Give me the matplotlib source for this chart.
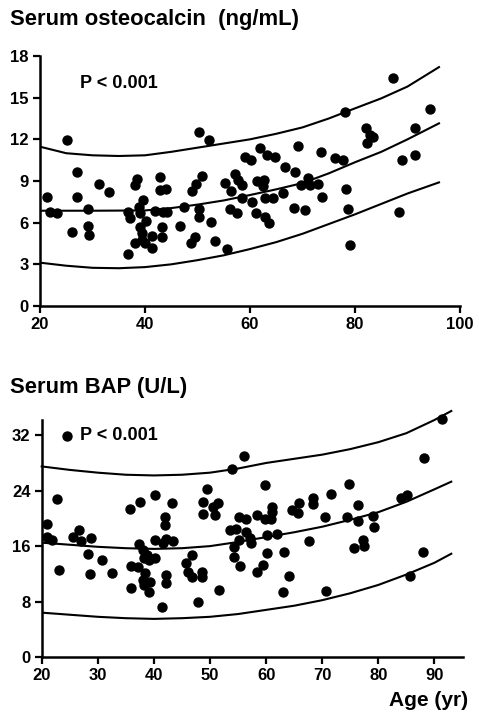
import matplotlib
matplotlib.use("Agg")
import matplotlib.pyplot as plt
import numpy as np

plt.rcParams['font.family'] = ['Liberation Sans', 'DejaVu Sans']
plt.rcParams['font.weight'] = 'bold'

# ---- Serum osteocalcin (ng/mL) vs age ----
oc_age = [21.3, 21.9, 23.3, 25.1, 26.0, 27.0, 27.0, 29.2, 29.2, 29.4, 31.3, 33.1,
          36.7, 36.7, 37.1, 38.0, 38.4, 38.0, 38.9, 39.0, 39.0, 39.4, 39.7, 39.4,
          40.2, 40.0, 41.3, 41.3, 41.9, 42.9, 42.9, 44.0, 43.5, 43.2, 43.3, 44.1,
          46.7, 47.4, 48.7, 49.5, 48.9, 49.7, 50.2, 52.1, 50.3, 50.3, 50.9, 52.5,
          53.3, 55.7, 55.2, 56.1, 56.3, 57.1, 57.6, 57.8, 58.4, 58.5, 59.0, 60.1,
          60.4, 61.3, 61.1, 61.9, 62.4, 62.7, 62.9, 62.9, 63.7, 63.2, 64.3, 64.8,
          66.2, 66.7, 68.3, 68.6, 69.1, 69.7, 70.5, 71.0, 71.4, 72.9, 73.5, 73.8,
          76.2, 77.8, 78.1, 78.3, 78.7, 79.0, 82.0, 82.2, 82.9, 83.4, 87.3, 88.3,
          88.9, 91.4, 91.4, 94.3]
oc_val = [7.87, 6.79, 6.67, 11.95, 5.35, 9.67, 7.82, 6.96, 5.78, 5.11, 8.76, 8.18,
          3.74, 6.74, 6.31, 8.71, 9.14, 4.56, 7.15, 6.67, 5.71, 5.23, 7.63, 4.75,
          6.14, 4.51, 4.15, 5.04, 6.86, 9.31, 8.35, 8.40, 6.79, 5.71, 4.99, 6.79,
          5.76, 7.15, 4.51, 4.99, 8.30, 8.76, 12.55, 11.95, 6.96, 6.43, 9.38, 6.07,
          4.70, 4.08, 8.88, 6.96, 8.28, 9.48, 6.72, 9.07, 8.71, 7.80, 10.75, 10.51,
          7.46, 9.02, 6.72, 11.35, 8.66, 9.07, 7.75, 6.43, 6.00, 10.87, 7.75, 10.75,
          8.11, 10.03, 7.03, 9.62, 11.54, 8.71, 6.91, 9.19, 8.71, 8.78, 11.11, 7.87,
          10.63, 10.51, 13.99, 8.40, 6.98, 4.39, 12.79, 11.76, 12.31, 12.19, 16.39, 6.74,
          10.51, 12.79, 10.87, 14.16]

oc_curve_age = [20, 25, 30, 35, 40, 45, 50, 55, 60, 65, 70, 75, 80, 85, 90, 96]
oc_upper = [11.47, 11.0, 10.85, 10.8, 10.85, 11.1, 11.4, 11.7, 12.0, 12.4, 12.86, 13.5, 14.23, 14.95, 15.8, 17.2]
oc_mid = [6.86, 6.86, 6.86, 6.87, 6.88, 7.05, 7.3, 7.6, 7.99, 8.4, 8.85, 9.55, 10.35, 11.1, 12.0, 13.15]
oc_lower = [3.12, 2.9, 2.75, 2.72, 2.8, 3.0, 3.3, 3.65, 4.1, 4.6, 5.2, 5.9, 6.6, 7.35, 8.1, 8.9]

# ---- Serum BAP (U/L) vs age ----
bap_age = [20.9, 20.9, 21.8, 22.8, 23.1, 24.5, 25.6, 26.7, 27.0, 28.3, 28.6, 28.8,
           30.7, 32.6, 35.7, 36.0, 36.0, 37.1, 37.4, 37.5, 38.1, 38.2, 38.4, 38.1,
           38.2, 38.7, 39.2, 39.3, 39.2, 40.2, 40.2, 40.2, 41.4, 41.7, 42.0, 42.0,
           42.1, 42.1, 42.1, 43.2, 43.4, 45.8, 46.1, 46.7, 46.7, 47.9, 48.5, 48.5,
           48.7, 48.7, 49.4, 50.6, 50.9, 51.5, 51.6, 53.6, 53.9, 54.2, 54.3, 54.6,
           55.1, 55.1, 55.4, 56.1, 56.4, 56.5, 57.1, 57.3, 58.3, 58.4, 59.5, 59.8,
           59.8, 60.1, 60.2, 60.8, 61.0, 61.0, 61.9, 63.0, 63.1, 64.1, 64.6, 65.6,
           65.9, 67.7, 68.3, 68.4, 70.5, 70.6, 71.6, 74.4, 74.8, 75.6, 76.3, 76.4,
           77.2, 77.5, 79.1, 79.2, 84.1, 85.1, 85.7, 87.9, 88.2, 91.3]
bap_val = [19.26, 17.34, 16.95, 22.86, 12.54, 31.89, 17.34, 18.30, 16.76, 14.84, 11.96, 17.20,
           13.98, 12.06, 21.42, 13.16, 9.89, 13.02, 16.28, 22.38, 15.42, 14.22, 12.06, 11.10,
           10.37, 14.70, 13.98, 10.85, 9.32, 23.34, 16.86, 14.22, 7.16, 16.52, 20.22, 19.02,
           17.10, 11.82, 10.61, 22.24, 16.71, 13.59, 12.30, 14.70, 11.48, 7.97, 12.30, 11.48,
           22.38, 20.60, 24.30, 21.66, 20.46, 22.24, 9.65, 18.30, 27.09, 15.90, 14.46, 18.40,
           16.86, 20.22, 13.11, 28.96, 19.98, 18.06, 17.24, 16.38, 20.56, 12.30, 13.26, 24.78,
           19.98, 15.03, 17.58, 19.98, 21.66, 20.94, 17.68, 9.41, 15.18, 11.72, 21.18, 20.80,
           22.29, 16.76, 23.01, 22.14, 20.22, 9.51, 23.49, 20.22, 24.93, 15.75, 21.90, 19.60,
           16.95, 16.04, 20.37, 18.78, 23.01, 23.34, 11.72, 15.18, 28.77, 34.39]

bap_curve_age = [20, 25, 30, 35, 40, 45, 50, 55, 60, 65, 70, 75, 80, 85, 90, 93]
bap_upper = [27.5, 27.0, 26.6, 26.3, 26.2, 26.3, 26.6, 27.2, 28.0, 28.6, 29.2, 30.0, 31.0, 32.3, 34.2, 35.5]
bap_mid = [16.5, 16.2, 15.9, 15.7, 15.6, 15.7, 16.0, 16.6, 17.3, 18.0, 18.8, 19.8, 20.9, 22.4, 24.2, 25.3]
bap_lower = [6.4, 6.1, 5.8, 5.6, 5.5, 5.6, 5.8, 6.2, 6.8, 7.4, 8.2, 9.2, 10.4, 11.9, 13.6, 14.9]

W, H = 479, 722
fig = plt.figure(figsize=(W / 100, H / 100), dpi=100)


def style(ax):
    ax.spines['top'].set_visible(False)
    ax.spines['right'].set_visible(False)
    for s in ('left', 'bottom'):
        ax.spines[s].set_linewidth(1.8)
    ax.tick_params(direction='out', length=5, width=1.6, labelsize=12, pad=3)


# top panel
ax1 = fig.add_axes([40 / W, 1 - 306 / H, 420 / W, 250 / H])
ax1.plot(oc_curve_age, oc_upper, color='black', lw=1.5)
ax1.plot(oc_curve_age, oc_mid, color='black', lw=1.5)
ax1.plot(oc_curve_age, oc_lower, color='black', lw=1.5)
ax1.scatter(oc_age, oc_val, s=42, color='black', zorder=3, clip_on=False)
ax1.set_xlim(20, 100)
ax1.set_ylim(0, 18)
ax1.set_xticks([20, 40, 60, 80, 100])
ax1.set_yticks([0, 3, 6, 9, 12, 15, 18])
style(ax1)
ax1.text(27.6, 16.0, 'P < 0.001', fontsize=13, va='center', ha='left')
fig.text(10 / W, 1 - 19 / H, 'Serum osteocalcin  (ng/mL)', fontsize=15.8, va='center', ha='left')

# bottom panel
ax2 = fig.add_axes([41.7 / W, 1 - 657 / H, 420.8 / W, 237 / H])
ax2.plot(bap_curve_age, bap_upper, color='black', lw=1.5, clip_on=False)
ax2.plot(bap_curve_age, bap_mid, color='black', lw=1.5)
ax2.plot(bap_curve_age, bap_lower, color='black', lw=1.5)
ax2.scatter(bap_age, bap_val, s=42, color='black', zorder=3, clip_on=False)
ax2.set_xlim(20, 95)
ax2.set_ylim(0, 34.2)
ax2.set_xticks([20, 30, 40, 50, 60, 70, 80, 90])
ax2.set_yticks([0, 8, 16, 24, 32])
style(ax2)
ax2.text(26.8, 32.0, 'P < 0.001', fontsize=13, va='center', ha='left')
fig.text(10 / W, 1 - 388 / H, 'Serum BAP (U/L)', fontsize=15.8, va='center', ha='left')
fig.text(468 / W, 1 - 700 / H, 'Age (yr)', fontsize=15, va='center', ha='right')

fig.savefig('out.png', dpi=100)
